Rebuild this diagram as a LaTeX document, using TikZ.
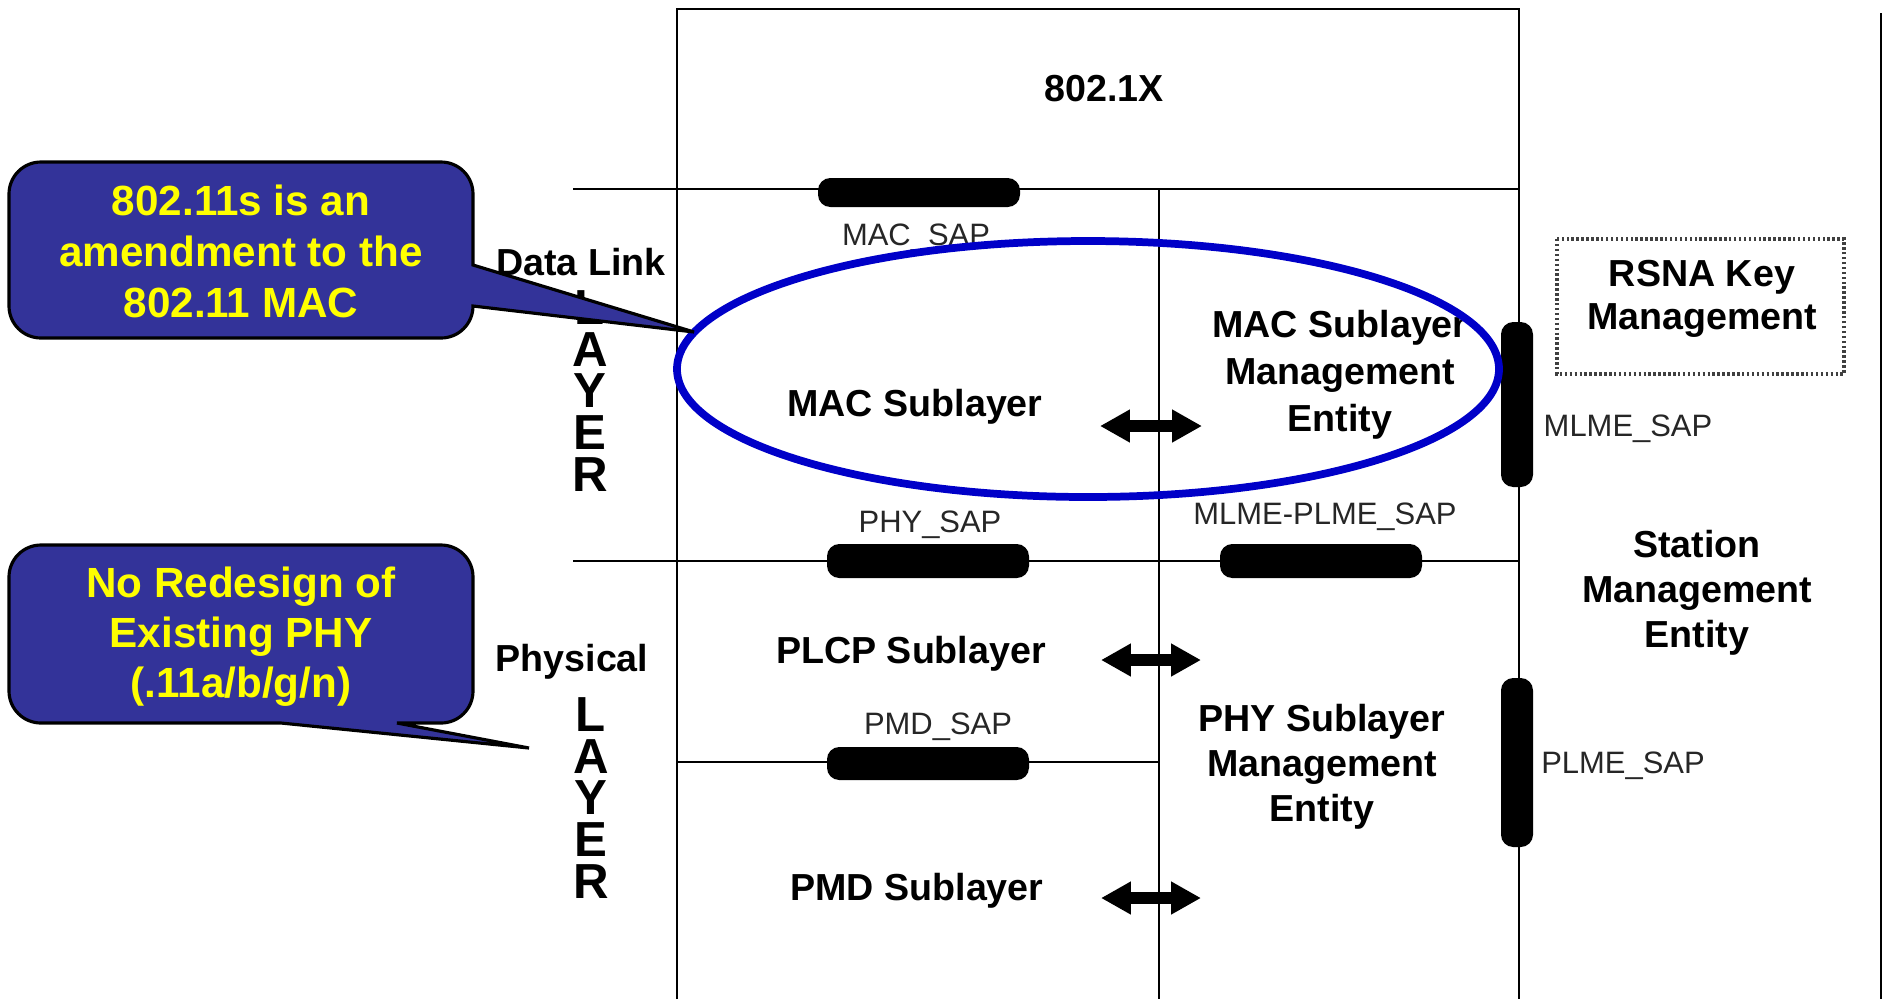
\documentclass[tikz,border=0pt]{standalone}
\usepackage{fontspec}
\setmainfont{Liberation Sans}
\usetikzlibrary{arrows.meta}
\definecolor{callblue}{RGB}{51,51,153}
\definecolor{ovalblue}{RGB}{0,0,200}
\definecolor{callyellow}{RGB}{255,255,0}
\begin{document}
\begin{tikzpicture}[x=0.01cm,y=-0.01cm,
  frame/.style={line width=0.65pt, black},
  lbl/.style={font=\fontsize{10.7}{13.4}\selectfont\bfseries, align=center, inner sep=0pt},
  saplbl/.style={font=\fontsize{8.8}{10}\selectfont, inner sep=0pt, text=black!85, anchor=base},
  pill/.style={fill=black, rounded corners=3.5pt},
  dblarrow/.style={line width=3.4pt, {Triangle[length=8.5pt,width=8.8pt]}-{Triangle[length=8.5pt,width=8.8pt]}},
  layerlbl/.style={font=\fontsize{14}{11.9}\selectfont\bfseries, align=center, inner sep=0pt},
  callout/.style={fill=callblue, draw=black, line width=0.9pt},
  calltext/.style={font=\fontsize{12}{14.5}\selectfont\bfseries, text=callyellow, align=center, inner sep=0pt}
]
\useasboundingbox (0,0) rectangle (1887,999);
\fill[white] (0,0) rectangle (1887,999);

% frame lines
\draw[frame] (677,999) -- (677,9) -- (1519,9) -- (1519,999);
\draw[frame] (573,189) -- (1519,189);
\draw[frame] (573,561) -- (1519,561);
\draw[frame] (677,762) -- (1159,762);
\draw[frame] (1159,189) -- (1159,999);
\draw[frame] (1881,13) -- (1881,999);

% SAP markers
\fill[pill] (818,178) rectangle (1020,207);
\fill[pill] (827,544) rectangle (1029,578);
\fill[pill] (1220,544) rectangle (1422,578);
\fill[pill] (827,747) rectangle (1029,780);
\fill[pill] (1501,322) rectangle (1533,487);
\fill[pill] (1501,678) rectangle (1533,847);

% RSNA dotted box
\draw[black!75, line width=1pt, dash pattern=on 0.7pt off 0.7pt] (1557,239) rectangle (1844,374);

% texts
\node[lbl, anchor=base] (t8021x) at (1104,101) {802.1X};
\node[lbl, anchor=base] (macsub) at (915,416) {MAC Sublayer};
\node[lbl] (mlme) at (1340,375) {MAC Sublayer\\Management\\Entity};
\node[lbl, font=\fontsize{10.7}{12.2}\selectfont\bfseries] (rsna) at (1702,299) {RSNA Key\\Management};
\node[saplbl] (mlmesap) at (1628,436) {MLME\_SAP};
\node[lbl, font=\fontsize{10.7}{12.8}\selectfont\bfseries] (sme) at (1697,593) {Station\\Management\\Entity};
\node[saplbl] (plmesap) at (1623,773) {PLME\_SAP};
\node[lbl, anchor=base] (plcp) at (911,663) {PLCP Sublayer};
\node[lbl, font=\fontsize{10.7}{12.8}\selectfont\bfseries] (plme) at (1322,767) {PHY Sublayer\\Management\\Entity};
\node[lbl, anchor=base] (pmd) at (917,900) {PMD Sublayer};
\node[lbl, anchor=base] (dlink) at (581,275) {Data Link};
\node[lbl, anchor=base] (phys) at (572,671) {Physical};
\node[layerlbl] (layer1) at (590,391) {L\\A\\Y\\E\\R};
\node[layerlbl] (layer2) at (591,798) {L\\A\\Y\\E\\R};
\node[saplbl] (macsap) at (916,245) {MAC\_SAP};
\node[saplbl] (physap) at (930,532) {PHY\_SAP};
\node[saplbl] (mpsap) at (1325,524) {MLME-PLME\_SAP};
\node[saplbl] (pmdsap) at (938,734) {PMD\_SAP};

% double arrows
\coordinate (a1l) at (1100,426); \coordinate (a1r) at (1202,426);
\coordinate (a2l) at (1101,660); \coordinate (a2r) at (1201,660);
\coordinate (a3l) at (1101,898); \coordinate (a3r) at (1201,898);
\draw[dblarrow] (a1l) -- (a1r);
\draw[dblarrow] (a2l) -- (a2r);
\draw[dblarrow] (a3l) -- (a3r);

% blue oval
\draw[line width=2.2pt, ovalblue] (1088,369) ellipse [x radius=411, y radius=128];

% callout 1
\draw[callout] (41,162) -- (441,162) .. controls (458.7,162) and (473,176.3) .. (473,194)
  -- (473,265) -- (694,332) -- (473,306)
  .. controls (473,323.7) and (458.7,338) .. (441,338) -- (41,338)
  .. controls (23.3,338) and (9,323.7) .. (9,306) -- (9,194)
  .. controls (9,176.3) and (23.3,162) .. (41,162) -- cycle;
\node[calltext] (c1text) at (241,251) {802.11s is an\\amendment to the\\802.11 MAC};

% callout 2
\draw[callout] (41,545) -- (441,545) .. controls (458.7,545) and (473,559.3) .. (473,577)
  -- (473,691) .. controls (473,708.7) and (458.7,723) .. (441,723)
  -- (397,723) -- (529,748) -- (281,723) -- (41,723)
  .. controls (23.3,723) and (9,708.7) .. (9,691) -- (9,577)
  .. controls (9,559.3) and (23.3,545) .. (41,545) -- cycle;
\node[calltext, font=\fontsize{12}{14.2}\selectfont\bfseries] (c2text) at (241,637) {No Redesign of\\Existing PHY\\(.11a/b/g/n)};
\end{tikzpicture}
\end{document}
